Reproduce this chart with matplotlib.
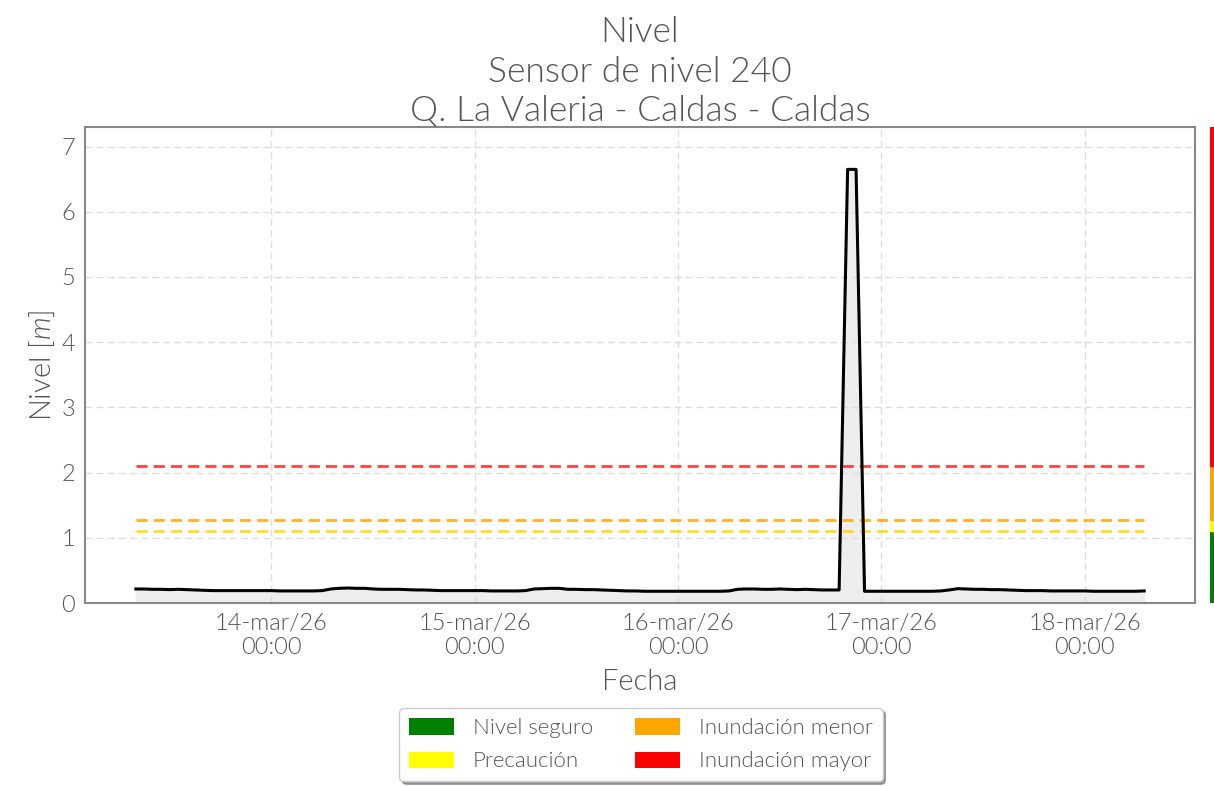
import numpy as np
import pandas as pd
import matplotlib
matplotlib.use("Agg")
import matplotlib.pyplot as plt
from matplotlib.patches import Patch

plt.rcParams['font.family'] = ['Lato', 'DejaVu Sans']
plt.rcParams['font.weight'] = 300
plt.rcParams['axes.titleweight'] = 300
plt.rcParams['axes.labelweight'] = 300
plt.rcParams['mathtext.fontset'] = 'custom'
plt.rcParams['mathtext.it'] = 'Lato:italic'
plt.rcParams['mathtext.rm'] = 'Lato'

TXT = '#555555'

# ---- data ----
start_time = '2026-03-13 08:00'
level_13 = [0.215, 0.215, 0.21, 0.21, 0.205, 0.21, 0.205, 0.20, 0.195, 0.19, 0.19, 0.19, 0.19, 0.19, 0.19, 0.19]
level_14 = [0.19, 0.185, 0.185, 0.185, 0.185, 0.185, 0.19, 0.215, 0.225, 0.23, 0.225, 0.225,
            0.215, 0.21, 0.21, 0.21, 0.205, 0.20, 0.20, 0.195, 0.19, 0.19, 0.19, 0.19]
level_15 = [0.19, 0.19, 0.185, 0.185, 0.185, 0.185, 0.19, 0.215, 0.22, 0.225, 0.225, 0.21,
            0.21, 0.205, 0.205, 0.20, 0.195, 0.19, 0.185, 0.185, 0.18, 0.18, 0.18, 0.18]
level_16 = [0.18, 0.18, 0.18, 0.18, 0.18, 0.18, 0.185, 0.21, 0.215, 0.215, 0.21, 0.21,
            0.215, 0.21, 0.205, 0.21, 0.205, 0.20, 0.20, 0.20, 6.65, 6.65, 0.18, 0.18]
level_17 = [0.18, 0.18, 0.18, 0.18, 0.18, 0.18, 0.18, 0.185, 0.20, 0.22, 0.215, 0.21,
            0.21, 0.205, 0.205, 0.20, 0.195, 0.19, 0.19, 0.19, 0.185, 0.185, 0.185, 0.185]
level_18 = [0.185, 0.18, 0.18, 0.18, 0.18, 0.18, 0.18, 0.185]

thresholds = [1.1, 1.28, 2.1]          # precaucion, menor, mayor
threshold_colors = ['#ffd700', '#ffa500', '#ff2020']
legend_labels = ['Nivel seguro', 'Precaución', 'Inundación menor', 'Inundación mayor']
legend_colors = ['green', 'yellow', 'orange', 'red']
tick_dates = ['2026-03-14', '2026-03-15', '2026-03-16', '2026-03-17', '2026-03-18']
tick_labels = ['14-mar/26\n00:00', '15-mar/26\n00:00', '16-mar/26\n00:00', '17-mar/26\n00:00', '18-mar/26\n00:00']
y_ticks = [0, 1, 2, 3, 4, 5, 6, 7]

level = level_13 + level_14 + level_15 + level_16 + level_17 + level_18
times = pd.date_range(start_time, periods=len(level), freq='h')

fig = plt.figure(figsize=(12.14, 7.86), dpi=100)
ax = fig.add_axes([85/1214, 1-603/786, (1195-85)/1214, (603-127)/786])

ax.fill_between(times, 0, level, color='#eeeeee', zorder=1)
ax.plot(times, level, color='black', lw=2.2, zorder=3)
for th, c in zip(thresholds, threshold_colors):
    ax.hlines(th, times[0], times[-1], colors=c, linestyles=(0, (4, 2.2)), lw=2.0, alpha=0.85, zorder=2)

ax.set_ylim(0, 7.3)
ax.set_xlim(pd.Timestamp('2026-03-13 02:00'), pd.Timestamp('2026-03-18 13:00'))
ax.set_yticks(y_ticks)
ax.set_xticks(pd.to_datetime(tick_dates))
ax.set_xticklabels(tick_labels)
ax.grid(True, ls=(0, (5, 3)), color='#dddddd', lw=1)
ax.tick_params(length=0, labelsize=17, labelcolor=TXT, pad=7)
for s in ax.spines.values():
    s.set_color('#888888')
    s.set_linewidth(1.5)

ax.set_xlabel('Fecha', fontsize=21, color=TXT, labelpad=8)
ax.set_ylabel('Nivel [$m$]', fontsize=21, color=TXT, labelpad=3)
ax.set_title('Nivel\nSensor de nivel 240\nQ. La Valeria - Caldas - Caldas', fontsize=25.5, color=TXT,
             linespacing=1.28, pad=4)

# side colour bar
cax = fig.add_axes([1210/1214, 1-603/786, 0.01, (603-127)/786])
cax.set_ylim(0, 7.3)
cax.set_xlim(0, 1)
bounds = [0] + thresholds + [7.3]
for lo, hi, c in zip(bounds[:-1], bounds[1:], legend_colors):
    cax.axhspan(lo, hi, color=c)
cax.axis('off')

handles = [Patch(facecolor=c, edgecolor='none') for c in legend_colors]
leg = fig.legend(handles, legend_labels, loc='upper center', bbox_to_anchor=(641/1214, 1-697/786),
                 ncol=2, fontsize=16, frameon=True, shadow=True, handlelength=2.0, handleheight=0.75,
                 columnspacing=1.9, handletextpad=0.85, labelspacing=0.6, fancybox=True,
                 borderpad=0.45)
for t in leg.get_texts():
    t.set_color(TXT)
leg.get_frame().set_edgecolor('#cccccc')

fig.savefig('out.png', dpi=100)
